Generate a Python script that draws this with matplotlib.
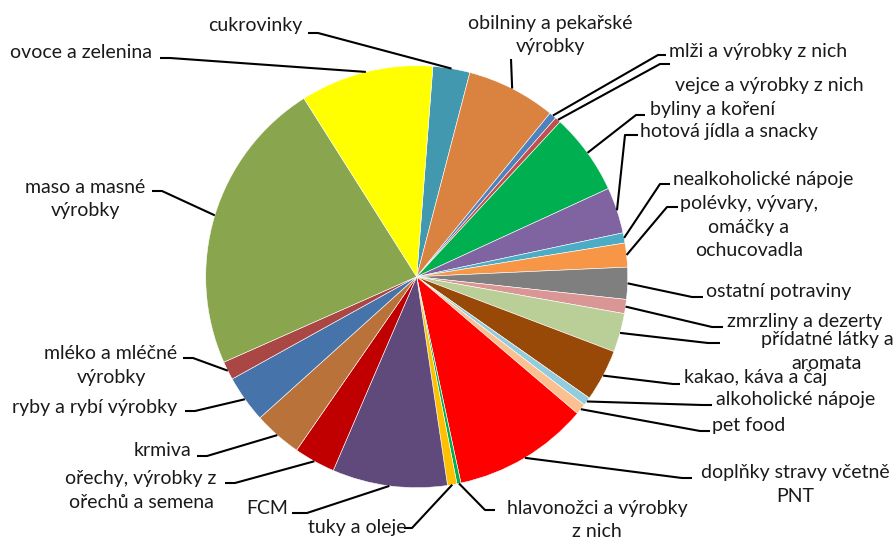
import numpy as np
import matplotlib
matplotlib.use('Agg')
import matplotlib.pyplot as plt

plt.rcParams['font.family'] = ['Lato', 'DejaVu Sans']

# slice order clockwise, starting a little right of 12 o'clock
labels = ['cukrovinky', 'obilniny a pekařské\nvýrobky', 'mlži a výrobky z nich',
          'vejce a výrobky z nich', 'byliny a koření', 'hotová jídla a snacky',
          'nealkoholické nápoje', 'polévky, vývary,\nomáčky a\nochucovadla',
          'ostatní potraviny', 'zmrzliny a dezerty', 'přídatné látky a\naromata',
          'kakao, káva a čaj', 'alkoholické nápoje', 'pet food',
          'doplňky stravy včetně\nPNT', 'hlavonožci a výrobky\nz nich', 'tuky a oleje',
          'FCM', 'ořechy, výrobky z\nořechů a semena', 'krmiva', 'ryby a rybí výrobky',
          'mléko a mléčné\nvýrobky', 'maso a masné\nvýrobky', 'ovoce a zelenina']
values = [10.2, 24.6, 2.0, 1.6, 22.5, 12.7, 2.8, 6.6, 8.8, 3.9, 10.7, 14.3,
          2.3, 3.0, 37.5, 1.1, 2.6, 31.7, 11.4, 13.3, 13.0, 5.1, 81.6, 36.7]
colors = ['#4198AF', '#DA8340', '#4F81BD', '#C0504D', '#00B050', '#8064A2',
          '#4BACC6', '#F79646', '#7F7F7F', '#D99694', '#BACF98', '#984807',
          '#93CDDD', '#FAC090', '#FF0000', '#00B050', '#FFC000', '#604A7B',
          '#C00000', '#B9733A', '#4674AA', '#AA4643', '#89A54E', '#FFFF00']

# label layout (pixel coords): text centre, leader elbow, leader end
text_pos = [(255.5, 25), (550, 35), (758.5, 52), (769.5, 86), (713, 110), (729, 131),
            (763.5, 180), (749, 227), (779, 292), (805, 322), (827, 351.5), (755.5, 378),
            (795.5, 400), (749, 425), (795, 484.5), (597, 520), (357.5, 527),
            (267.5, 509), (141, 490.5), (162.5, 451), (95, 407), (111, 365.5),
            (85.5, 199), (81.5, 53)]
elbows = [(318, 33), (511, 59), (658, 55), (660, 64), (636, 115), (625, 135),
          (660, 184), (667, 207), (692, 297), (712, 327), (708, 343), (673, 384),
          (702, 405), (700, 431), (682, 478), (485, 510), (412, 528),
          (307, 513), (235, 483), (207, 456), (195, 411), (193, 358),
          (162, 191), (170, 58)]
ends = [(308, 33), (511, 59), (666, 55), (670, 64), (645, 115), (638, 135),
        (670, 184), (678, 207), (703, 297), (723, 327), (720, 343), (680, 384),
        (712, 405), (710, 431), (692, 478), (495, 510), (404, 528),
        (292, 513), (225, 483), (197, 456), (185, 411), (183, 358),
        (152, 191), (160, 58)]

cx, cy, r = 416.7, 276.7, 211

fig = plt.figure(figsize=(8.96, 5.4), dpi=100)
ax = fig.add_axes([0, 0, 1, 1])
# y axis inverted -> counterclock in data = clockwise on screen
wedges, _ = ax.pie(values, colors=colors, startangle=-85.6, counterclock=True,
                   center=(cx, cy), radius=r,
                   wedgeprops=dict(edgecolor='white', linewidth=0.4))
ax.set_xlim(0, 896)
ax.set_ylim(540, 0)
ax.set_aspect('equal')
ax.axis('off')

for w, lab, tp, el, en in zip(wedges, labels, text_pos, elbows, ends):
    th = np.deg2rad((w.theta1 + w.theta2) / 2)
    px, py = cx + r * np.cos(th), cy + r * np.sin(th)
    ax.plot([px, el[0], en[0]], [py, el[1], en[1]], color='black', lw=1.5,
            solid_capstyle='butt')
    ax.text(tp[0], tp[1], lab, ha='center', va='center', fontsize=14,
            color='#1a1a1a', linespacing=1.45, multialignment='center')

plt.savefig('out.png', dpi=100)
